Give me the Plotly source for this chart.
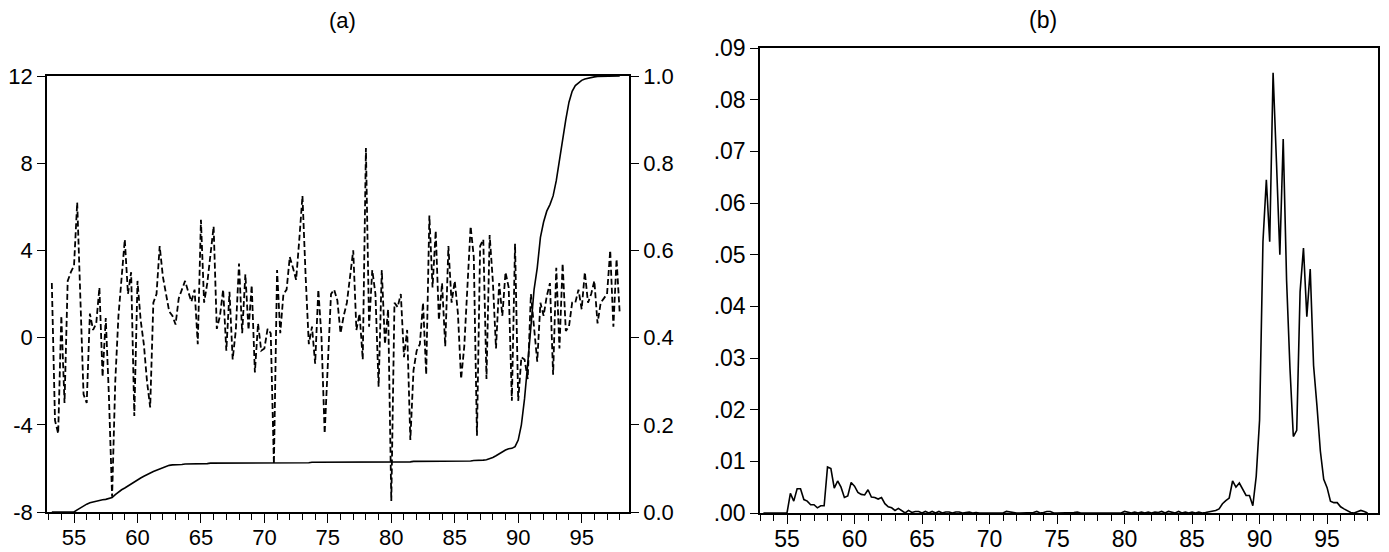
import numpy as np
import plotly.graph_objects as go

# quarterly dates, 1953Q2 .. 1998Q1, written as two-digit years
quarters = np.arange(53.25, 98.01, 0.25)

# (a) dashed series, left axis (one row = four quarters, starting quarter in comment)
growth = [
    2.5, -3.8, -4.4, 1.0,      # 53.25
    -3.0, 2.6, 3.0, 3.3,       # 54.25
    6.2, 2.0, -2.6, -3.0,      # 55.25
    1.1, 0.35, 0.65, 2.3,      # 56.25
    -1.8, 0.9, -2.7, -7.3,     # 57.25
    -2.0, 1.0, 2.8, 4.5,       # 58.25
    2.0, 3.0, -3.6, 2.6,       # 59.25
    0.8, -0.3, -2.0, -3.2,     # 60.25
    1.6, 2.0, 4.2, 2.8,        # 61.25
    2.0, 1.2, 1.0, 0.6,        # 62.25
    1.8, 2.2, 2.6, 2.1,        # 63.25
    1.65, 2.2, -0.3, 5.4,      # 64.25
    1.6, 2.5, 3.8, 5.1,        # 65.25
    0.4, 1.0, 2.2, -0.6,       # 66.25
    2.1, -1.0, 0.35, 3.4,      # 67.25
    0.2, 2.9, 0.35, 2.4,       # 68.25
    -1.6, 0.65, -0.6, -0.5,    # 69.25
    0.4, 0.2, -5.8, 3.1,       # 70.25
    0.2, 2.0, 2.2, 3.7,        # 71.25
    3.2, 2.65, 4.5, 6.5,       # 72.25
    2.8, -0.3, 0.5, -1.2,      # 73.25
    2.2, 0.0, -4.4, -1.5,      # 74.25
    2.0, 2.2, 1.7, 0.2,        # 75.25
    1.0, 1.6, 2.8, 4.0,        # 76.25
    0.35, 1.1, -1.0, 8.7,      # 77.25
    0.5, 3.1, 2.0, -2.25,      # 78.25
    3.1, -0.3, 1.3, -7.5,      # 79.25
    1.6, 1.4, 2.0, -0.9,       # 80.25
    0.35, -4.7, -1.5, -0.6,    # 81.25
    -0.3, 1.6, -1.7, 5.6,      # 82.25
    2.3, 4.9, 0.8, 2.5,        # 83.25
    -0.4, 4.2, 1.6, 2.6,       # 84.25
    1.1, -1.9, -0.4, 2.5,      # 85.25
    5.1, 3.7, -4.5, 4.2,       # 86.25
    4.5, -1.9, 4.7, 2.6,       # 87.25
    -0.5, 2.5, 1.0, 3.0,       # 88.25
    2.3, -2.9, 4.3, -2.9,      # 89.25
    -0.9, -1.0, -1.9, 2.0,     # 90.25
    0.35, -1.1, 1.6, 1.0,      # 91.25
    1.9, 2.5, -1.7, 3.2,       # 92.25
    -0.5, 3.4, 0.3, 0.5,       # 93.25
    1.6, 1.6, 2.2, 1.3,        # 94.25
    3.0, 1.6, 2.0, 2.6,        # 95.25
    0.65, 1.6, 1.8, 2.0,       # 96.25
    4.0, 0.5, 3.6, 1.1,        # 97.25
]

# (a) solid series, right axis
prob = [
    0, 0, 0, 0,                        # 53.25
    0, 0, 0, 0,                        # 54.25
    0.005, 0.010, 0.014, 0.018,        # 55.25
    0.021, 0.023, 0.025, 0.026,        # 56.25
    0.028, 0.029, 0.031, 0.033,        # 57.25
    0.040, 0.046, 0.051, 0.055,        # 58.25
    0.060, 0.065, 0.069, 0.074,        # 59.25
    0.078, 0.082, 0.086, 0.090,        # 60.25
    0.093, 0.096, 0.099, 0.102,        # 61.25
    0.105, 0.107, 0.108, 0.108,        # 62.25
    0.109, 0.109, 0.110, 0.110,        # 63.25
    0.110, 0.111, 0.111, 0.111,        # 64.25
    0.111, 0.111, 0.112, 0.112,        # 65.25
    0.112, 0.112, 0.112, 0.112,        # 66.25
    0.112, 0.112, 0.112, 0.112,        # 67.25
    0.112, 0.112, 0.112, 0.112,        # 68.25
    0.112, 0.112, 0.113, 0.113,        # 69.25
    0.113, 0.113, 0.113, 0.113,        # 70.25
    0.113, 0.113, 0.113, 0.113,        # 71.25
    0.113, 0.113, 0.113, 0.113,        # 72.25
    0.113, 0.113, 0.114, 0.114,        # 73.25
    0.114, 0.114, 0.114, 0.114,        # 74.25
    0.114, 0.114, 0.114, 0.114,        # 75.25
    0.114, 0.114, 0.115, 0.115,        # 76.25
    0.115, 0.115, 0.115, 0.115,        # 77.25
    0.115, 0.115, 0.115, 0.115,        # 78.25
    0.115, 0.115, 0.115, 0.115,        # 79.25
    0.115, 0.115, 0.115, 0.115,        # 80.25
    0.115, 0.115, 0.116, 0.116,        # 81.25
    0.116, 0.116, 0.116, 0.116,        # 82.25
    0.116, 0.116, 0.116, 0.116,        # 83.25
    0.116, 0.116, 0.117, 0.117,        # 84.25
    0.117, 0.117, 0.117, 0.117,        # 85.25
    0.117, 0.118, 0.118, 0.118,        # 86.25
    0.119, 0.120, 0.122, 0.125,        # 87.25
    0.129, 0.134, 0.138, 0.142,        # 88.25
    0.145, 0.146, 0.150, 0.165,        # 89.25
    0.20, 0.26, 0.34, 0.43,            # 90.25
    0.51, 0.56, 0.63, 0.665,           # 91.25
    0.69, 0.705, 0.725, 0.76,          # 92.25
    0.81, 0.855, 0.90, 0.94,           # 93.25
    0.965, 0.978, 0.985, 0.99,         # 94.25
    0.993, 0.995, 0.997, 0.998,        # 95.25
    0.999, 0.999, 0.999, 1.0,          # 96.25
    1.0, 1.0, 1.0, 1.0,                # 97.25
]

# (b) solid series
density = [
    0, 0, 0, 0,                              # 53.25
    0, 0, 0, 0,                              # 54.25
    0.0038, 0.0023, 0.0047, 0.0047,          # 55.25
    0.0026, 0.0023, 0.0016, 0.0016,          # 56.25
    0.0010, 0.0014, 0.0014, 0.0089,          # 57.25
    0.0086, 0.0048, 0.0062, 0.0050,          # 58.25
    0.0030, 0.0033, 0.0059, 0.0052,          # 59.25
    0.0040, 0.0036, 0.0035, 0.0045,          # 60.25
    0.0031, 0.0030, 0.0027, 0.0030,          # 61.25
    0.0018, 0.0012, 0.0010, 0.0005,          # 62.25
    0.0009, 0.0005, 0.0, 0.0005,             # 63.25
    0.0001, 0.0003, 0.0003, 0.0,             # 64.25
    0.0003, 0.0, 0.0003, 0.0,                # 65.25
    0.0003, 0.0, 0.0002, 0.0002,             # 66.25
    0.0, 0.0002, 0.0002, 0.0,                # 67.25
    0.0001, 0.0002, 0.0, 0.0001,             # 68.25
    0.0, 0.0, 0.0, 0.0,                      # 69.25
    0.0, 0.0001, 0.0, 0.0,                   # 70.25
    0.0003, 0.0002, 0.0, 0.0,                # 71.25
    0.0, 0.0, 0.0, 0.0001,                   # 72.25
    0.0001, 0.0003, 0.0, 0.0001,             # 73.25
    0.0003, 0.0003, 0.0, 0.0,                # 74.25
    0.0, 0.0, 0.0, 0.0,                      # 75.25
    0.0001, 0.0002, 0.0, 0.0,                # 76.25
    0.0, 0.0001, 0.0, 0.0,                   # 77.25
    0.0, 0.0001, 0.0, 0.0,                   # 78.25
    0.0001, 0.0, 0.0, 0.0003,                # 79.25
    0.0001, 0.0, 0.0002, 0.0,                # 80.25
    0.0002, 0.0, 0.0002, 0.0,                # 81.25
    0.0002, 0.0001, 0.0003, 0.0,             # 82.25
    0.0003, 0.0002, 0.0, 0.0003,             # 83.25
    0.0, 0.0002, 0.0, 0.0002,                # 84.25
    0.0, 0.0002, 0.0, 0.0001,                # 85.25
    0.0002, 0.0003, 0.0005, 0.0008,          # 86.25
    0.0018, 0.0024, 0.0029, 0.0062,          # 87.25
    0.0050, 0.0058, 0.0045, 0.0034,          # 88.25
    0.0034, 0.0014, 0.0071, 0.0180,          # 89.25
    0.0525, 0.0645, 0.0525, 0.0852,          # 90.25
    0.0680, 0.0500, 0.0724, 0.0450,          # 91.25
    0.0280, 0.0148, 0.0160, 0.0428,          # 92.25
    0.0513, 0.0380, 0.0472, 0.0285,          # 93.25
    0.0207, 0.0120, 0.0065, 0.0049,          # 94.25
    0.0023, 0.0020, 0.0020, 0.0012,          # 95.25
    0.0008, 0.0004, 0.0001, 0.0,             # 96.25
    0.0003, 0.0005, 0.0003, 0.0,             # 97.25
]

year_ticks = [55, 60, 65, 70, 75, 80, 85, 90, 95]
left_ticks = [-8, -4, 0, 4, 8, 12]
left_labels = ['-8', '-4', '0', '4', '8', '12']
right_ticks = [0.0, 0.2, 0.4, 0.6, 0.8, 1.0]
right_labels = ['0.0', '0.2', '0.4', '0.6', '0.8', '1.0']
b_ticks = [0.0, 0.01, 0.02, 0.03, 0.04, 0.05, 0.06, 0.07, 0.08, 0.09]
b_labels = ['.00', '.01', '.02', '.03', '.04', '.05', '.06', '.07', '.08', '.09']

# the page puts the plot 8px in from the top-left corner, so the figure is
# made that much smaller and positions are given in window pixels
OFF = 8
W, H = 1389 - OFF, 552 - OFF
FONT = 'Liberation Sans, Arial, sans-serif'
FS_A, FS_B = 22, 23


def px_x(a, b):
    return [(a - OFF) / W, (b - OFF) / W]


def px_y(top, bottom):
    return [1 - (bottom - OFF) / H, 1 - (top - OFF) / H]


fig = go.Figure()
fig.add_trace(go.Scatter(x=quarters, y=growth, mode='lines', xaxis='x', yaxis='y',
                         line=dict(color='black', width=1.8, dash='6px,3px'), showlegend=False))
fig.add_trace(go.Scatter(x=quarters, y=prob, mode='lines', xaxis='x', yaxis='y2',
                         line=dict(color='black', width=1.6), showlegend=False))
fig.add_trace(go.Scatter(x=quarters, y=density, mode='lines', xaxis='x2', yaxis='y3',
                         line=dict(color='black', width=1.6), showlegend=False))

common = dict(showgrid=False, zeroline=False, showline=True, linecolor='black', linewidth=1.5,
              ticks='outside', tickcolor='black', tickwidth=1.3, automargin=False)
minor = dict(dtick=1, tick0=53, ticks='outside', ticklen=6, tickcolor='black', tickwidth=1.3)

fig.update_layout(
    width=W, height=H,
    margin=dict(l=0, r=0, t=0, b=0, pad=0),
    paper_bgcolor='white', plot_bgcolor='white',
    font=dict(family=FONT, color='black', size=FS_A),
    xaxis=dict(common, domain=px_x(47, 629), range=[52.87, 98.73], anchor='y',
               tickvals=year_ticks, ticklen=9, mirror=True, minor=minor,
               ticklabelstandoff=-4, tickfont=dict(size=FS_A)),
    yaxis=dict(common, domain=px_y(76, 512), range=[-8, 12], anchor='x',
               tickvals=left_ticks, ticktext=left_labels, ticklen=8, tickfont=dict(size=FS_A)),
    yaxis2=dict(common, domain=px_y(76, 512), range=[0, 1], anchor='x', overlaying='y',
                side='right', tickvals=right_ticks, ticktext=right_labels, ticklen=8,
                tickfont=dict(size=FS_A)),
    xaxis2=dict(common, domain=px_x(760, 1378), range=[53.0, 98.77], anchor='y3',
                tickvals=year_ticks, ticklen=9, mirror=True, minor=minor,
                ticklabelstandoff=-4, tickfont=dict(size=FS_B)),
    yaxis3=dict(common, domain=px_y(48, 513), range=[0, 0.09], anchor='x2', mirror=True,
                tickvals=b_ticks, ticktext=b_labels, ticklen=8, tickfont=dict(size=FS_B)),
    annotations=[
        dict(text='(a)', x=(342 - OFF) / W, y=1 - (20 - OFF) / H, xref='paper', yref='paper',
             showarrow=False, font=dict(size=FS_A), xanchor='center', yanchor='middle'),
        dict(text='(b)', x=(1043 - OFF) / W, y=1 - (20 - OFF) / H, xref='paper', yref='paper',
             showarrow=False, font=dict(size=FS_B), xanchor='center', yanchor='middle'),
    ],
)

fig.write_html("out.html")
